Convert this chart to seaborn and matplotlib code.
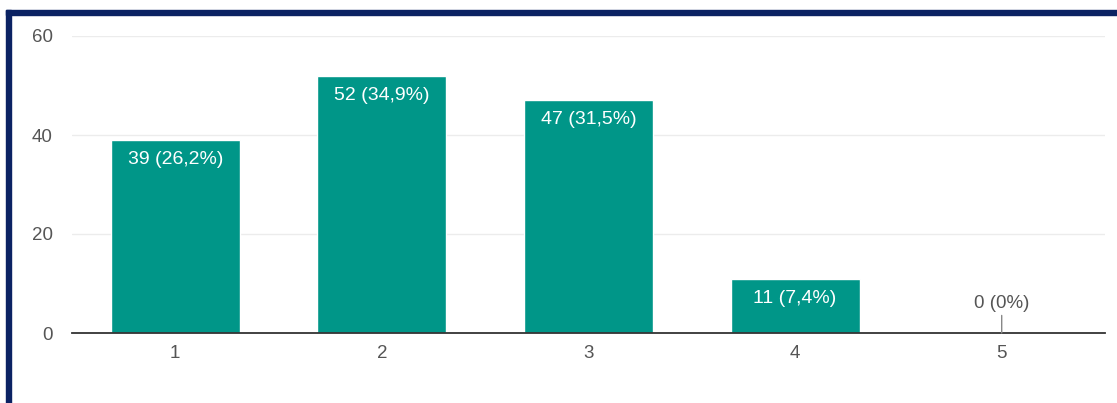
import matplotlib
matplotlib.use("Agg")
import matplotlib.pyplot as plt
import seaborn as sns
import pandas as pd
from matplotlib.patches import Rectangle

# Survey responses per rating
ratings = ["1", "2", "3", "4", "5"]
counts = [39, 52, 47, 11, 0]
shares = ["26,2%", "34,9%", "31,5%", "7,4%", "0%"]
y_ticks = [0, 20, 40, 60]

df = pd.DataFrame({"rating": ratings, "count": counts})

sns.set_theme(style="white")
plt.rcParams["font.family"] = ["Liberation Sans", "DejaVu Sans"]

W, H = 1117, 403
fig = plt.figure(figsize=(W / 100, H / 100), dpi=100)
ax = fig.add_axes([72 / W, 70 / H, 1033 / W, 297 / H])

bar_color = "#009688"
sns.barplot(data=df, x="rating", y="count", color=bar_color, width=0.625,
            saturation=1, ax=ax, zorder=3)

ax.set_xlim(-0.5, 4.5)
ax.set_ylim(0, 60)
ax.set_yticks(y_ticks)
ax.set_xlabel("")
ax.set_ylabel("")
ax.yaxis.grid(True, color="#ececec", linewidth=1, zorder=0)
ax.set_axisbelow(True)
for side in ["left", "right", "top"]:
    ax.spines[side].set_visible(False)
ax.spines["bottom"].set_color("#333333")
ax.spines["bottom"].set_linewidth(1.3)
ax.spines["bottom"].set_zorder(4)
ax.tick_params(axis="y", length=0, pad=14, labelsize=13.5, labelcolor="#555555")
ax.tick_params(axis="x", length=0, pad=9, labelsize=13.5, labelcolor="#555555")

# Value labels
for i, (c, s) in enumerate(zip(counts, shares)):
    text = f"{c} ({s})"
    if c > 0:
        ax.annotate(text, xy=(i, c), xytext=(0, -8), textcoords="offset points",
                    ha="center", va="top", color="white", fontsize=14, zorder=5)
    else:
        ax.annotate(text, xy=(i, c), xytext=(0, 15), textcoords="offset points",
                    ha="center", va="bottom", color="#555555", fontsize=13.5,
                    zorder=5,
                    arrowprops=dict(arrowstyle="-", color="#888888", lw=1,
                                    shrinkA=0, shrinkB=0))

# Navy frame along the left and top edges
frame = "#0b2263"
fig.patches.append(Rectangle((6 / W, 0), 5 / W, (H - 10) / H,
                             transform=fig.transFigure, color=frame, zorder=10))
fig.patches.append(Rectangle((6 / W, (H - 15) / H), (W - 6) / W, 5 / H,
                             transform=fig.transFigure, color=frame, zorder=10))

fig.savefig("out.png", dpi=100)
